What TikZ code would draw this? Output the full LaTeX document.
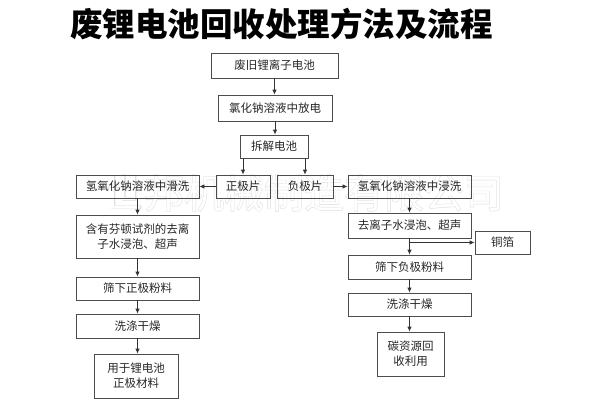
\documentclass[tikz,border=0pt]{standalone}
\usepackage{fontspec}
\setmainfont{Noto Sans CJK SC}
\newfontfamily\cjk{Noto Sans CJK SC}
\newfontfamily\cjkwmbold{Noto Sans CJK SC}[FakeBold=2]
\usetikzlibrary{arrows.meta}
\begin{document}
\begin{tikzpicture}[x=1bp,y=-1bp,
  box/.style={draw=black!70,line width=0.8bp,minimum height=23bp,inner sep=1bp,align=center,
    font=\fontsize{11.5bp}{15bp}\selectfont\cjk,text=black!85},
  arr/.style={draw=black!80,line width=0.8bp,-{Latex[length=5bp,width=4.5bp]}}]
\useasboundingbox (0,0) rectangle (600,400);
% watermark (outlined)
\node[text=black!13,font=\fontsize{40bp}{40bp}\selectfont\cjkwmbold] (wmo) at (304,193) {世邦机械制造有限公司};
\node[text=white,font=\fontsize{40bp}{40bp}\selectfont\cjk] (wmi) at (304,193) {世邦机械制造有限公司};
% title
\node[font=\fontsize{32.5bp}{32.5bp}\selectfont\bfseries] (title) at (281.5,24) {废锂电池回收处理方法及流程};
% boxes
\node[box,minimum width=127bp,minimum height=25bp] (b1) at (274.5,65.5) {废旧锂离子电池};
\node[box,minimum width=114bp,minimum height=26bp] (b2) at (275,108) {氯化钠溶液中放电};
\node[box,minimum width=68bp] (b3) at (274,146.5) {拆解电池};
\node[box,minimum width=54bp] (pos) at (243,186.5) {正极片};
\node[box,minimum width=56bp] (neg) at (305,186.5) {负极片};
\node[box,minimum width=123bp] (l1) at (137.5,186.5) {氢氧化钠溶液中滑洗};
\node[box,minimum width=123bp,minimum height=43bp] (l2) at (137.5,236.5) {含有芬顿试剂的去离\\子水浸泡、超声};
\node[box,minimum width=123bp] (l3) at (137.5,288.5) {筛下正极粉料};
\node[box,minimum width=123bp,minimum height=24bp] (l4) at (137.5,326) {洗涤干燥};
\node[box,minimum width=84bp,minimum height=44bp] (l5) at (136,376) {用于锂电池\\正极材料};
\node[box,minimum width=123bp] (r1) at (409.5,186.5) {氢氧化钠溶液中浸洗};
\node[box,minimum width=123bp,minimum height=25bp] (r2) at (409.5,225.5) {去离子水浸泡、超声};
\node[box,minimum width=55bp] (cu) at (502.5,242.5) {铜箔};
\node[box,minimum width=123bp,minimum height=24bp] (r3) at (409.5,267) {筛下负极粉料};
\node[box,minimum width=123bp] (r4) at (409.5,304.5) {洗涤干燥};
\node[box,minimum width=67bp,minimum height=44bp] (r5) at (410.5,354) {碳资源回\\收利用};
% arrows
\draw[arr] (b1.south) -- (b1.south |- b2.north);
\draw[arr] (b2.south) -- (b2.south |- b3.north);
\draw[arr] (pos.north |- b3.south) -- (pos.north);
\draw[arr] (neg.north |- b3.south) -- (neg.north);
\draw[arr] (pos.west) -- (l1.east);
\draw[arr] (neg.east) -- (r1.west);
\draw[arr] (l1.south) -- (l2.north);
\draw[arr] (l2.south) -- (l3.north);
\draw[arr] (l3.south) -- (l4.north);
\draw[arr] (l4.south) -- (l4.south |- l5.north);
\draw[arr] (r1.south) -- (r2.north);
\draw[arr] (r2.south) -- (r3.north);
\draw[arr] (r2.south |- cu.west) -- (cu.west);
\draw[arr] (r3.south) -- (r4.north);
\draw[arr] (r4.south) -- (r4.south |- r5.north);
\end{tikzpicture}
\end{document}
